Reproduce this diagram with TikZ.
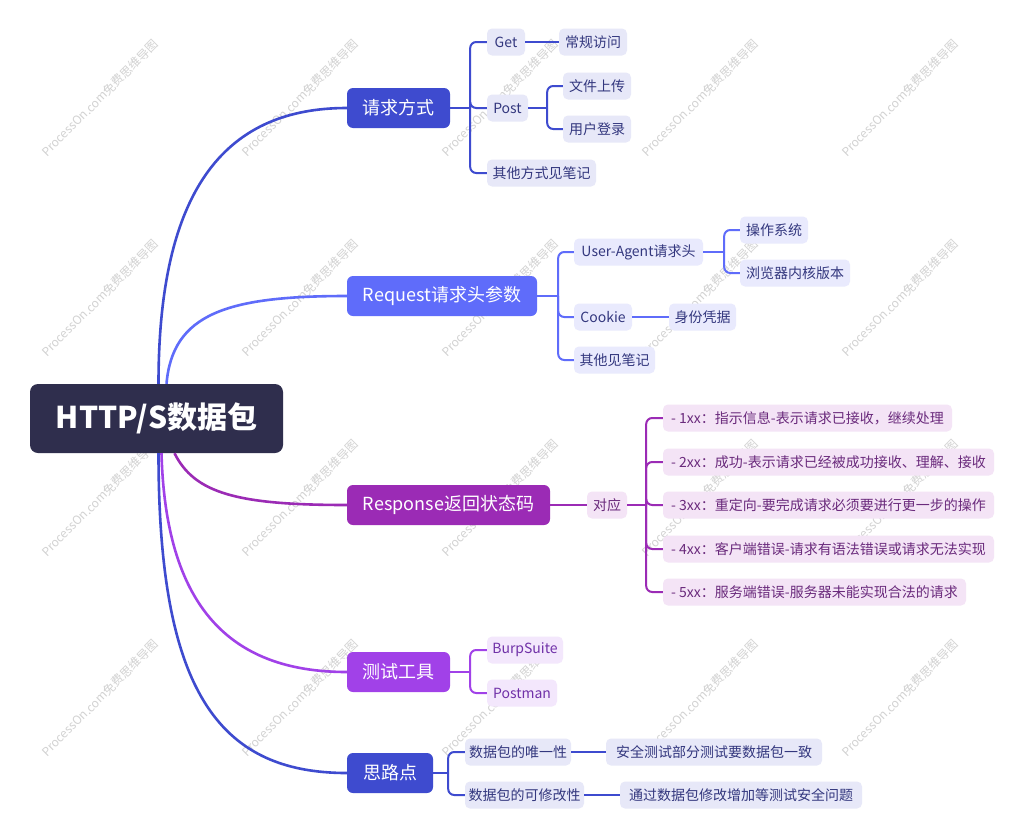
\documentclass[tikz,border=0pt]{standalone}
\usepackage{fontspec}
\setmainfont{Noto Sans CJK SC}
\usetikzlibrary{calc}
\definecolor{rootc}{HTML}{2F2E4D}
\definecolor{cA}{HTML}{3E4BCF}
\definecolor{cB}{HTML}{5F6CFA}
\definecolor{cC}{HTML}{9B2BB5}
\definecolor{cD}{HTML}{A141E8}
\definecolor{fA}{HTML}{E7E8F8}
\definecolor{fB}{HTML}{E9EAFD}
\definecolor{fC}{HTML}{F4E4F6}
\definecolor{fD}{HTML}{F3E7FC}
\definecolor{tA}{HTML}{33377E}
\definecolor{tC}{HTML}{6A2A7C}
\definecolor{tD}{HTML}{7031A8}
\definecolor{wmc}{HTML}{D2D2D2}
\begin{document}
\begin{tikzpicture}[x=1pt,y=-1pt,
  rootbox/.style={rounded corners=8pt, fill=rootc, text=white, font=\fontsize{30}{34}\selectfont\bfseries, minimum width=253pt, minimum height=69pt, inner sep=0pt},
  mainbox/.style={rounded corners=6pt, text=white, font=\fontsize{18}{21}\selectfont, minimum height=40pt, inner sep=0pt},
  leaf/.style={rounded corners=5pt, font=\fontsize{14}{16}\selectfont, minimum height=27pt, inner sep=0pt},
  leafA/.style={leaf, fill=fA, text=tA},
  leafB/.style={leaf, fill=fB, text=tA},
  leafC/.style={leaf, fill=fC, text=tC},
  leafD/.style={leaf, fill=fD, text=tD},
  curveline/.style={line width=2.6pt},
  elbow/.style={line width=2pt, rounded corners=6pt},
  wm/.style={text=wmc, font=\fontsize{12}{14}\selectfont, rotate=45}
]
\useasboundingbox (0,0) rectangle (1024,835);
\fill[white] (0,0) rectangle (1024,835);

% watermarks
\foreach \x in {100,300,500,700,900}
  \foreach \y in {98,298,498,698}
    \node[wm] at (\x,\y) {ProcessOn.com免费思维导图};

% root and main branches
\node[rootbox] (root) at (156.5,418.5) {HTTP/S数据包};
\node[mainbox, fill=cA, minimum width=103pt] (m1) at (398.5,108) {请求方式};
\node[mainbox, fill=cB, minimum width=190pt] (m2) at (442,296) {Request请求头参数};
\node[mainbox, fill=cC, minimum width=203pt] (m3) at (448.5,505) {Response返回状态码};
\node[mainbox, fill=cD, minimum width=103pt] (m4) at (398.5,672) {测试工具};
\node[mainbox, fill=cA, minimum width=86pt] (m5) at (390,773) {思路点};

% curves from root
\draw[curveline, cA] ([xshift=2pt]root.north) .. controls +(0,-190) and +(-125,0) .. (m1.west);
\draw[curveline, cB] ([xshift=10pt]root.north) .. controls +(6,-70) and +(-120,0) .. (m2.west);
\draw[curveline, cC] ([xshift=18pt]root.south) .. controls +(20,40) and +(-110,0) .. (m3.west);
\draw[curveline, cD] ([xshift=5pt]root.south) .. controls +(4,150) and +(-120,0) .. (m4.west);
\draw[curveline, cA] ([xshift=2pt]root.south) .. controls +(0,235) and +(-130,0) .. (m5.west);

% branch 1
\node[leafA, minimum width=38pt] (g) at (506,42) {Get};
\node[leafA, minimum width=68pt] (cg) at (593,42) {常规访问};
\node[leafA, minimum width=41pt] (po) at (507.5,108) {Post};
\node[leafA, minimum width=68pt] (f1) at (597,86) {文件上传};
\node[leafA, minimum width=68pt] (f2) at (597,129) {用户登录};
\node[leafA, minimum width=109pt] (o1) at (541.5,173) {其他方式见笔记};
\coordinate (j1) at ($(m1.east)+(20,0)$);
\draw[elbow, cA] (m1.east) -- (j1);
\foreach \c in {g,po,o1} \draw[elbow, cA] (j1) |- (\c.west);
\draw[elbow, cA] (g.east) -- (cg.west);
\coordinate (j1b) at ($(po.east)+(19,0)$);
\draw[elbow, cA] (po.east) -- (j1b);
\foreach \c in {f1,f2} \draw[elbow, cA] (j1b) |- (\c.west);

% branch 2
\node[leafB, minimum width=129pt] (ua) at (638.5,252) {User-Agent请求头};
\node[leafB, minimum width=68pt] (os) at (774,230) {操作系统};
\node[leafB, minimum width=110pt] (br) at (795,273) {浏览器内核版本};
\node[leafB, minimum width=58pt] (ck) at (603,317) {Cookie};
\node[leafB, minimum width=67pt] (sf) at (702.5,317) {身份凭据};
\node[leafB, minimum width=81pt] (o2) at (614.5,360) {其他见笔记};
\coordinate (j2) at ($(m2.east)+(21,0)$);
\draw[elbow, cB] (m2.east) -- (j2);
\foreach \c in {ua,ck,o2} \draw[elbow, cB] (j2) |- (\c.west);
\coordinate (j2b) at ($(ua.east)+(21,0)$);
\draw[elbow, cB] (ua.east) -- (j2b);
\foreach \c in {os,br} \draw[elbow, cB] (j2b) |- (\c.west);
\draw[elbow, cB] (ck.east) -- (sf.west);

% branch 3
\node[leafC, minimum width=40pt] (dy) at (607,505) {对应};
\node[leafC, minimum width=289pt] (s1) at (807.5,418) {- 1xx：指示信息-表示请求已接收，继续处理};
\node[leafC, minimum width=331pt] (s2) at (828.5,462) {- 2xx：成功-表示请求已经被成功接收、理解、接收};
\node[leafC, minimum width=331pt] (s3) at (828.5,505) {- 3xx：重定向-要完成请求必须要进行更一步的操作};
\node[leafC, minimum width=331pt] (s4) at (828.5,549) {- 4xx：客户端错误-请求有语法错误或请求无法实现};
\node[leafC, minimum width=303pt] (s5) at (814.5,592) {- 5xx：服务端错误-服务器未能实现合法的请求};
\draw[elbow, cC] (m3.east) -- (dy.west);
\coordinate (j3) at ($(dy.east)+(19,0)$);
\draw[elbow, cC] (dy.east) -- (j3);
\foreach \c in {s1,s2,s3,s4,s5} \draw[elbow, cC] (j3) |- (\c.west);

% branch 4
\node[leafD, minimum width=76pt] (bp) at (525,650) {BurpSuite};
\node[leafD, minimum width=70pt] (pm) at (522,693) {Postman};
\coordinate (j4) at ($(m4.east)+(20,0)$);
\draw[elbow, cD] (m4.east) -- (j4);
\foreach \c in {bp,pm} \draw[elbow, cD] (j4) |- (\c.west);

% branch 5
\node[leafA, minimum width=106pt] (u1) at (518,752) {数据包的唯一性};
\node[leafA, minimum width=216pt] (u2) at (714,752) {安全测试部分测试要数据包一致};
\node[leafA, minimum width=119pt] (k1) at (524.5,795) {数据包的可修改性};
\node[leafA, minimum width=242pt] (k2) at (741,795) {通过数据包修改增加等测试安全问题};
\coordinate (j5) at ($(m5.east)+(15,0)$);
\draw[elbow, cA] (m5.east) -- (j5);
\foreach \c in {u1,k1} \draw[elbow, cA] (j5) |- (\c.west);
\draw[elbow, cA] (u1.east) -- (u2.west);
\draw[elbow, cA] (k1.east) -- (k2.west);
\end{tikzpicture}
\end{document}
